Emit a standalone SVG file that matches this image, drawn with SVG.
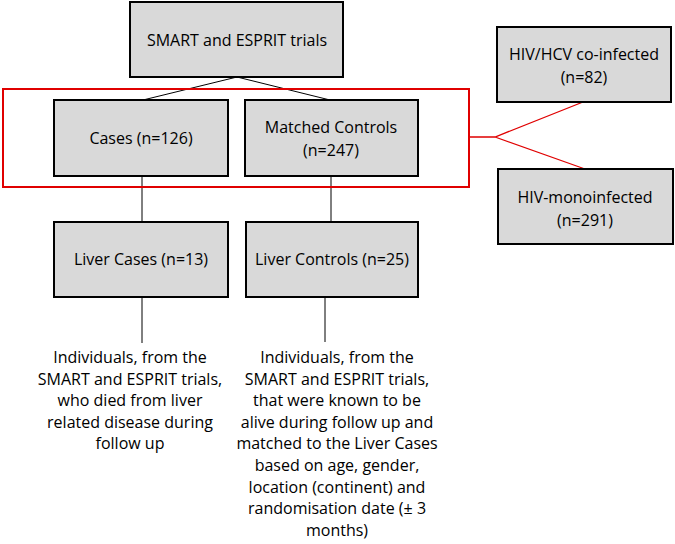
<svg xmlns="http://www.w3.org/2000/svg" width="675" height="544" viewBox="0 0 675 544">
<style>
.box{fill:#d9d9d9;stroke:#000;stroke-width:2}
.t{font-family:"Open Sans","Liberation Sans",Arial,sans-serif;font-size:16px;fill:#000;text-anchor:middle}
.k{stroke:#000;stroke-width:1;fill:none}
.r{stroke:#e00000;fill:none}
</style>
<rect width="675" height="544" fill="#fff"/>
<g id="connectors">
<path class="k" d="M237 77 L143 100 M237 77 L330 100 M142 176 V222 M331 176 V222 M142 297 V343 M325 297 V342"/>
<rect class="r" x="3" y="89" width="466" height="98" stroke-width="2"/>
<path class="r" stroke-width="1.3" d="M469 137 H495 L583 102 M495 137 L585 169"/>
</g>
<g id="smart"><rect class="box" x="130" y="2" width="213" height="75"/><text class="t" x="237" y="46">SMART and ESPRIT trials</text></g>
<g id="cases"><rect class="box" x="54" y="100" width="174" height="76"/><text class="t" x="141" y="144">Cases (n=126)</text></g>
<g id="controls"><rect class="box" x="245" y="100" width="173" height="76"/><text class="t" x="331" y="133">Matched Controls</text><text class="t" x="331" y="156">(n=247)</text></g>
<g id="livercases"><rect class="box" x="54" y="222" width="174" height="75"/><text class="t" x="141" y="265">Liver Cases (n=13)</text></g>
<g id="livercontrols"><rect class="box" x="246" y="222" width="172" height="75"/><text class="t" x="332" y="265">Liver Controls (n=25)</text></g>
<g id="hcv"><rect class="box" x="497" y="27" width="174" height="75"/><text class="t" x="584" y="60">HIV/HCV co-infected</text><text class="t" x="584" y="83">(n=82)</text></g>
<g id="mono"><rect class="box" x="498" y="169" width="175" height="75"/><text class="t" x="585" y="203">HIV-monoinfected</text><text class="t" x="585" y="226">(n=291)</text></g>
<g id="desc-cases"><text class="t" x="130" y="363">Individuals, from the<tspan x="130" dy="21.6">SMART and ESPRIT trials,</tspan><tspan x="130" dy="21.6">who died from liver</tspan><tspan x="130" dy="21.6">related disease during</tspan><tspan x="130" dy="21.6">follow up</tspan></text></g>
<g id="desc-controls"><text class="t" x="337" y="363">Individuals, from the<tspan x="337" dy="21.6">SMART and ESPRIT trials,</tspan><tspan x="337" dy="21.6">that were known to be</tspan><tspan x="337" dy="21.6">alive during follow up and</tspan><tspan x="337" dy="21.6">matched to the Liver Cases</tspan><tspan x="337" dy="21.6">based on age, gender,</tspan><tspan x="337" dy="21.6">location (continent) and</tspan><tspan x="337" dy="21.6">randomisation date (± 3</tspan><tspan x="337" dy="21.6">months)</tspan></text></g>
</svg>
